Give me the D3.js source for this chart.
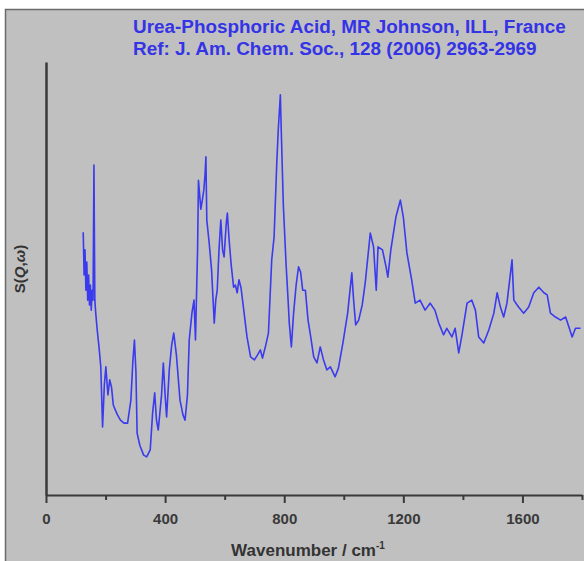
<!DOCTYPE html>
<html>
<head>
<meta charset="utf-8">
<script src="https://cdn.jsdelivr.net/npm/d3@7"></script>
<style>
  html, body { margin: 0; padding: 0; background: #fff; }
  svg { display: block; font-family: "Liberation Sans", Arial, sans-serif; }
</style>
</head>
<body>
<div id="chart"></div>
<script>
var width = 584,
    height = 561;

// wavenumber (cm-1) and S(Q,w) in arbitrary units
var wavenumber = [
  125, 128, 131, 134, 137, 140, 143, 146, 149, 152, 155, 158, 161, 164, 167, 172, 178, 184, 190, 196,
  201, 208, 214, 220, 226, 233, 240, 250, 262, 274, 285, 292, 297, 302, 306, 315, 328, 338, 350, 358,
  365, 371, 377, 388, 394, 400, 405, 414, 422, 429, 438, 450, 460, 467, 475, 481, 490, 497, 502, 509,
  512, 516, 520, 525, 530, 534, 537, 540, 548, 556, 565, 570, 575, 581, 587, 593, 598, 605, 609, 615,
  622, 630, 636, 642, 648, 655, 662, 675, 687, 700, 710, 720, 727, 738, 747, 758, 766, 775, 780, 787,
  790, 797, 806, 813, 817, 824, 831, 840, 848, 855, 862, 871, 880, 888, 899, 910, 921, 932, 943, 955,
  971, 982, 997, 1013, 1027, 1033, 1040, 1050, 1062, 1072, 1089, 1100, 1109, 1115, 1130, 1142, 1148, 1158, 1175, 1190,
  1200, 1212, 1228, 1240, 1256, 1273, 1290, 1306, 1319, 1335, 1346, 1363, 1374, 1386, 1397, 1414, 1430, 1442, 1453, 1470,
  1487, 1504, 1515, 1526, 1537, 1548, 1565, 1571, 1587, 1604, 1621, 1638, 1655, 1672, 1683, 1694, 1711, 1728, 1745, 1767,
  1778, 1795
];

var intensity = [
  60.7, 50.8, 56.6, 47.3, 53.8, 45.0, 50.8, 43.9, 48.5, 42.7, 47.3, 45.0, 76.2, 45.0, 42.0, 38.1, 34.2, 29.6, 15.7, 25.4,
  29.6, 23.1, 26.6, 24.9, 20.8, 19.6, 18.5, 17.3, 16.6, 16.6, 21.9, 31.2, 35.8, 28.4, 14.3, 11.5, 9.2, 8.8, 10.4, 18.9,
  23.6, 17.3, 15.0, 23.1, 30.5, 23.1, 18.0, 28.9, 34.6, 37.4, 32.3, 21.9, 18.5, 17.3, 23.1, 35.8, 42.0, 45.0, 35.8, 56.6,
  72.7, 69.3, 66.0, 68.1, 70.4, 73.9, 78.1, 63.5, 58.2, 52.0, 39.7, 45.0, 47.3, 56.6, 63.5, 56.6, 55.0, 62.4, 65.1, 58.9,
  53.1, 48.0, 48.5, 46.7, 49.7, 47.8, 43.9, 36.5, 31.9, 31.2, 32.3, 33.5, 31.6, 34.6, 37.4, 54.3, 59.6, 76.7, 84.3, 92.4,
  84.3, 67.0, 53.6, 45.0, 39.7, 34.2, 41.6, 48.5, 52.7, 51.5, 47.3, 47.3, 40.4, 37.0, 31.9, 30.5, 34.2, 31.2, 28.9, 29.6,
  27.3, 29.3, 35.1, 42.0, 51.3, 45.0, 39.3, 40.4, 43.9, 49.0, 60.5, 57.3, 47.3, 57.3, 56.6, 52.7, 50.3, 56.6, 64.2, 68.1,
  64.2, 55.9, 49.7, 44.3, 45.0, 42.7, 44.3, 42.7, 39.7, 37.0, 38.5, 36.5, 38.5, 32.8, 37.0, 44.3, 45.0, 42.7, 36.5, 35.1,
  38.1, 42.0, 46.7, 43.4, 41.1, 44.3, 54.3, 45.0, 43.4, 42.0, 43.4, 46.7, 48.0, 46.7, 46.2, 42.0, 41.1, 40.4, 41.1, 36.5,
  38.5, 38.5
];

var majorTicks = [0, 400, 800, 1200, 1600];
var minorTicks = [200, 600, 1000, 1400, 1800];

var titleLines = [
  "Urea-Phosphoric Acid, MR Johnson, ILL, France",
  "Ref: J. Am. Chem. Soc., 128 (2006) 2963-2969"
];

var svg = d3.select("#chart").append("svg")
    .attr("width", width)
    .attr("height", height);

// grey panel with its dark frame
svg.append("rect")
    .attr("x", 5.5)
    .attr("y", 9.5)
    .attr("width", width)
    .attr("height", height)
    .attr("fill", "#c0c0c0")
    .attr("stroke", "#6a6a6a")
    .attr("stroke-width", 1.5);

var x = d3.scaleLinear().domain([0, 1800]).range([46, 582]);
var y = d3.scaleLinear().domain([0, 100]).range([495, 62]);

var axisColor = "#3a3a3a";

// x axis: labelled major ticks plus unlabelled minor ones
var xAxis = svg.append("g")
    .attr("transform", "translate(0," + y(0) + ")")
    .call(d3.axisBottom(x).tickValues(majorTicks).tickFormat(d3.format("d"))
      .tickSize(8).tickSizeOuter(0).tickPadding(10));

svg.append("g")
    .attr("transform", "translate(0," + y(0) + ")")
    .call(d3.axisBottom(x).tickValues(minorTicks).tickSize(5).tickFormat("").tickSizeOuter(0))
    .select(".domain").remove();

svg.selectAll(".domain, .tick line")
    .attr("stroke", axisColor)
    .attr("stroke-width", 2);

xAxis.selectAll(".tick text")
    .attr("fill", "#3a3a3a")
    .style("font-size", "15px")
    .style("font-weight", "bold");

// y axis: bare line, no ticks
var yAxis = svg.append("g")
    .attr("transform", "translate(" + x(0) + ",0)")
    .call(d3.axisLeft(y).tickValues([]).tickSizeOuter(0));

yAxis.select(".domain")
    .attr("stroke", axisColor)
    .attr("stroke-width", 2.5);

// spectrum
var line = d3.line()
    .x(function(d, i) { return x(wavenumber[i]); })
    .y(function(d) { return y(d); });

svg.append("path")
    .datum(intensity)
    .attr("fill", "none")
    .attr("stroke", "#3a3aee")
    .attr("stroke-width", 1.6)
    .attr("stroke-linejoin", "round")
    .attr("d", line);

// title block
svg.selectAll(".title")
    .data(titleLines)
  .enter().append("text")
    .attr("class", "title")
    .attr("x", 133)
    .attr("y", function(d, i) { return 33 + i * 22; })
    .attr("fill", "#3434e6")
    .style("font-size", "18.9px")
    .style("font-weight", "bold")
    .text(function(d) { return d; });

// axis titles
var xTitle = svg.append("text")
    .attr("x", 308)
    .attr("y", 556)
    .attr("text-anchor", "middle")
    .attr("fill", "#333")
    .style("font-size", "17px")
    .style("font-weight", "bold");
xTitle.append("tspan").text("Wavenumber / cm");
xTitle.append("tspan").attr("dy", -7).style("font-size", "10px").text("-1");

var yTitle = svg.append("text")
    .attr("transform", "translate(25,269)rotate(-90)")
    .attr("text-anchor", "middle")
    .attr("fill", "#333")
    .style("font-size", "15px")
    .style("font-weight", "bold");
yTitle.append("tspan").text("S(");
yTitle.append("tspan").style("font-style", "italic").text("Q");
yTitle.append("tspan").text(",");
yTitle.append("tspan").style("font-style", "italic").text("ω");
yTitle.append("tspan").text(")");
</script>
</body>
</html>
